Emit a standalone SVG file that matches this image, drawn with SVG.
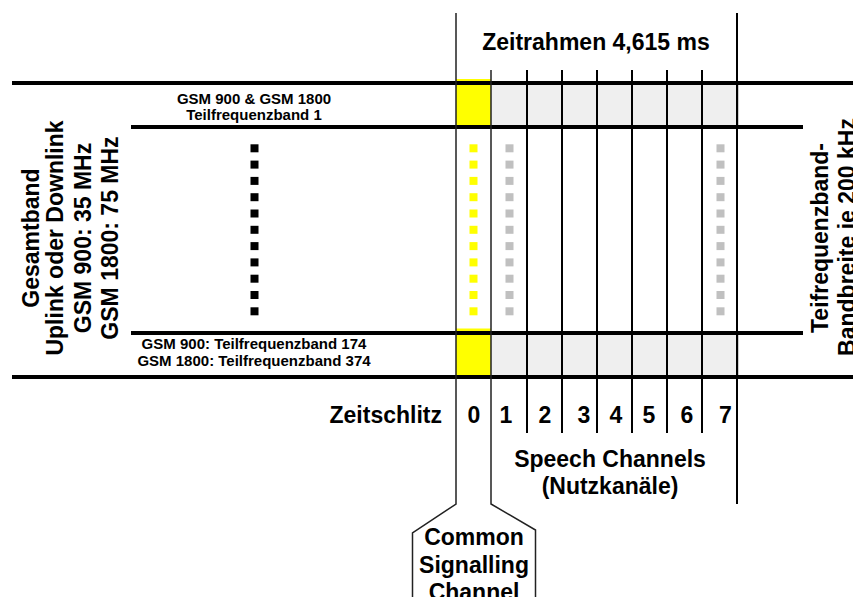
<svg xmlns="http://www.w3.org/2000/svg" width="853" height="597" viewBox="0 0 853 597">
<style>
text{font-family:"Liberation Sans",Arial,sans-serif;font-weight:bold;fill:#000}
.big{font-size:23px}
.small{font-size:15px}
.mid{text-anchor:middle}
.hl{stroke:#000;stroke-width:4;fill:none}
.vthin{stroke:#222;stroke-width:1.5;fill:none}
.vslot{stroke:#000;stroke-width:2;fill:none}
.dk{fill:#000}
.ye{fill:#ffff00}
.gr{fill:#c0c0c0}
</style>
<rect width="853" height="597" fill="#fff"/>
<g id="bands">
<rect x="456" y="83" width="282" height="44" fill="#efefef"/>
<rect x="456" y="333" width="282" height="44" fill="#efefef"/>
<line x1="738" y1="83" x2="738" y2="127" stroke="#999" stroke-width="1"/>
<line x1="738" y1="333" x2="738" y2="377" stroke="#999" stroke-width="1"/>
<rect x="456" y="79" width="35" height="48" class="ye"/>
<rect x="456" y="328.5" width="35" height="48.5" class="ye"/>
</g>
<g id="dots">
<g class="dk">
<rect x="250.5" y="144.3" width="8" height="8"/><rect x="250.5" y="160.6" width="8" height="8"/><rect x="250.5" y="176.9" width="8" height="8"/><rect x="250.5" y="193.2" width="8" height="8"/><rect x="250.5" y="209.5" width="8" height="8"/><rect x="250.5" y="225.8" width="8" height="8"/><rect x="250.5" y="242.1" width="8" height="8"/><rect x="250.5" y="258.4" width="8" height="8"/><rect x="250.5" y="274.7" width="8" height="8"/><rect x="250.5" y="291" width="8" height="8"/><rect x="250.5" y="307.3" width="8" height="8"/>
</g>
<g class="ye">
<rect x="469.5" y="144.3" width="8" height="8"/><rect x="469.5" y="160.6" width="8" height="8"/><rect x="469.5" y="176.9" width="8" height="8"/><rect x="469.5" y="193.2" width="8" height="8"/><rect x="469.5" y="209.5" width="8" height="8"/><rect x="469.5" y="225.8" width="8" height="8"/><rect x="469.5" y="242.1" width="8" height="8"/><rect x="469.5" y="258.4" width="8" height="8"/><rect x="469.5" y="274.7" width="8" height="8"/><rect x="469.5" y="291" width="8" height="8"/><rect x="469.5" y="307.3" width="8" height="8"/>
</g>
<g class="gr">
<rect x="505.5" y="144.3" width="8" height="8"/><rect x="505.5" y="160.6" width="8" height="8"/><rect x="505.5" y="176.9" width="8" height="8"/><rect x="505.5" y="193.2" width="8" height="8"/><rect x="505.5" y="209.5" width="8" height="8"/><rect x="505.5" y="225.8" width="8" height="8"/><rect x="505.5" y="242.1" width="8" height="8"/><rect x="505.5" y="258.4" width="8" height="8"/><rect x="505.5" y="274.7" width="8" height="8"/><rect x="505.5" y="291" width="8" height="8"/><rect x="505.5" y="307.3" width="8" height="8"/>
<rect x="716.5" y="144.3" width="8" height="8"/><rect x="716.5" y="160.6" width="8" height="8"/><rect x="716.5" y="176.9" width="8" height="8"/><rect x="716.5" y="193.2" width="8" height="8"/><rect x="716.5" y="209.5" width="8" height="8"/><rect x="716.5" y="225.8" width="8" height="8"/><rect x="716.5" y="242.1" width="8" height="8"/><rect x="716.5" y="258.4" width="8" height="8"/><rect x="716.5" y="274.7" width="8" height="8"/><rect x="716.5" y="291" width="8" height="8"/><rect x="716.5" y="307.3" width="8" height="8"/>
</g>
</g>
<g id="connectors">
<line class="hl" x1="12" y1="83" x2="853" y2="83"/>
<line class="hl" x1="131" y1="127" x2="803" y2="127"/>
<line class="hl" x1="131" y1="333" x2="803" y2="333"/>
<line class="hl" x1="12" y1="377" x2="853" y2="377"/>
<polyline class="vthin" points="456,13 456,504 412.5,533 412.5,597"/>
<polyline class="vthin" points="491,70 491,504 535.5,530 535.5,597"/>
<line class="vslot" x1="527" y1="70" x2="527" y2="433"/>
<line class="vslot" x1="562" y1="70" x2="562" y2="433"/>
<line class="vslot" x1="597" y1="70" x2="597" y2="433"/>
<line class="vslot" x1="632" y1="70" x2="632" y2="433"/>
<line class="vslot" x1="667" y1="70" x2="667" y2="433"/>
<line class="vslot" x1="702" y1="70" x2="702" y2="433"/>
<line class="vslot" x1="737" y1="13" x2="737" y2="504"/>
</g>
<g id="frame-label"><text class="big mid" x="596" y="50">Zeitrahmen 4,615 ms</text></g>
<g id="band-labels">
<text class="small mid" x="254" y="104">GSM 900 &amp; GSM 1800</text>
<text class="small mid" x="254" y="120">Teilfrequenzband 1</text>
<text class="small mid" x="254" y="349">GSM 900: Teilfrequenzband 174</text>
<text class="small mid" x="254" y="366">GSM 1800: Teilfrequenzband 374</text>
</g>
<g id="left-label" class="big">
<text class="mid" transform="translate(39,238) rotate(-90)">Gesamtband</text>
<text class="mid" transform="translate(63,238) rotate(-90)">Uplink oder Downlink</text>
<text class="mid" transform="translate(91,238) rotate(-90)">GSM 900: 35 MHz</text>
<text class="mid" transform="translate(118,238) rotate(-90)">GSM 1800: 75 MHz</text>
</g>
<g id="right-label" class="big">
<text class="mid" transform="translate(828,238) rotate(-90)">Teifrequenzband-</text>
<text class="mid" transform="translate(855,237) rotate(-90)">Bandbreite je 200 kHz</text>
</g>
<g id="slots" class="big">
<text x="442" y="423" style="text-anchor:end">Zeitschlitz</text>
<text class="mid" x="474" y="423">0</text>
<text class="mid" x="506" y="423">1</text>
<text class="mid" x="545" y="423">2</text>
<text class="mid" x="584" y="423">3</text>
<text class="mid" x="616" y="423">4</text>
<text class="mid" x="649" y="423">5</text>
<text class="mid" x="687" y="423">6</text>
<text class="mid" x="725.5" y="423">7</text>
</g>
<g id="speech" class="big">
<text class="mid" x="610" y="467">Speech Channels</text>
<text class="mid" x="610" y="494">(Nutzkanäle)</text>
</g>
<g id="csc" class="big">
<text class="mid" x="474" y="545">Common</text>
<text class="mid" x="474" y="572.5">Signalling</text>
<text class="mid" x="474" y="600">Channel</text>
</g>
</svg>
